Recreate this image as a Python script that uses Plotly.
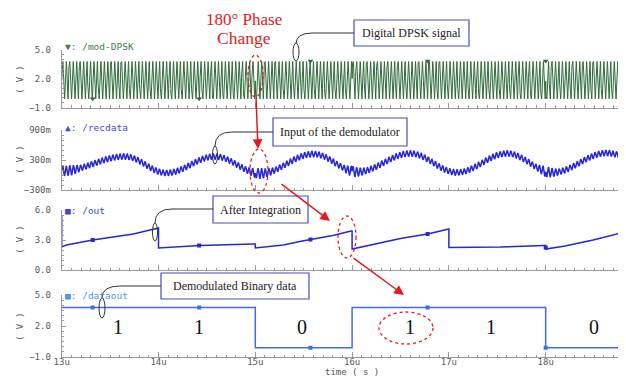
import numpy as np
import plotly.graph_objects as go

# page body has an 8px margin: figure is offset by 8px inside the window
OFF = 8
W, H = 626 - OFF, 379 - OFF

# ---------------- data ----------------
time_ticks = [13, 14, 15, 16, 17, 18]
time_tick_text = ["13u", "14u", "15u", "16u", "17u", "18u"]
t_start, t_end = 13.0, 18.778

# panel 1: DPSK modulated carrier
dpsk_cycles_per_us = 28.0
dpsk_high = 3.8
dpsk_low = -0.1
dpsk_phase_flips = [15.0, 16.0, 18.0]

# panel 2: received data - slow component (peaks / troughs) plus carrier ripple
rec_t = [13.0, 13.65, 14.08, 14.58, 15.05, 15.6, 16.05, 16.6, 17.08, 17.6, 18.07, 18.63, 18.778]
rec_v = [0.08, 0.37, 0.04, 0.37, 0.03, 0.42, 0.06, 0.43, 0.05, 0.43, 0.05, 0.44, 0.40]
ripple_cycles_per_us = 27.0
ripple_t = [13.0, 13.1, 13.2, 14.9, 15.05, 15.2, 15.9, 16.0, 16.15, 17.9, 18.0, 18.15, 18.778]
ripple_a = [0.10, 0.10, 0.06, 0.06, 0.11, 0.06, 0.06, 0.11, 0.06, 0.06, 0.11, 0.06, 0.06]

# panel 3: integrator output
out_t = [13.0, 13.0, 13.05, 13.32, 13.74, 13.98, 14.0, 14.0, 14.43, 14.97, 15.0, 15.0,
         15.29, 15.46, 15.57, 15.8, 15.99, 16.0, 16.0, 16.15, 16.5, 16.78, 16.99, 17.0,
         17.0, 17.53, 17.98, 18.0, 18.0, 18.2, 18.49, 18.778]
out_v = [5.5, 2.3, 2.5, 3.0, 3.6, 4.2, 4.2, 2.2, 2.45, 2.6, 2.6, 2.2,
         2.5, 2.85, 3.05, 3.45, 3.9, 3.9, 2.1, 2.4, 3.15, 3.6, 4.1, 4.1,
         2.25, 2.3, 2.45, 2.45, 2.1, 2.4, 3.0, 3.7]

# panel 4: demodulated data
data_t = [13.0, 15.0, 16.0, 18.0, 18.778]
data_v = [3.8, -0.1, 3.8, -0.1, -0.1]

bits = ["1", "1", "0", "1", "1", "0"]
bit_t = [13.58, 14.42, 15.48, 16.6, 17.43, 18.5]
bit_y = 1.9

marker_t = [13.32, 14.42, 15.57, 16.78, 18.0]
dpsk_marker_v = [-0.1, -0.1, 3.85, 3.85, 3.85]
out_marker_v = [3.0, 2.45, 3.05, 3.6, 2.25]
data_marker_v = [3.8, 3.8, -0.1, 3.8, -0.1]

# ---------------- waveform synthesis from the read parameters ----------------
t = np.linspace(t_start, t_end, 4800)
flips = np.zeros_like(t)
for tf in dpsk_phase_flips:
    flips += (t >= tf)
phase = 2 * np.pi * dpsk_cycles_per_us * (t - t_start) + np.pi * flips
sq = np.clip(1.35 * np.sin(phase), -1, 1)
dpsk = (dpsk_high + dpsk_low) / 2 + (dpsk_high - dpsk_low) / 2 * sq


def smooth_interp(tq, kt, kv):
    kt = np.asarray(kt); kv = np.asarray(kv)
    idx = np.clip(np.searchsorted(kt, tq, side="right") - 1, 0, len(kt) - 2)
    f = (tq - kt[idx]) / (kt[idx + 1] - kt[idx])
    f = (1 - np.cos(np.pi * np.clip(f, 0, 1))) / 2
    return kv[idx] + (kv[idx + 1] - kv[idx]) * f


slow = smooth_interp(t, rec_t, rec_v)
ramp = np.interp(t, ripple_t, ripple_a)
rphase = 2 * np.pi * ripple_cycles_per_us * (t - t_start) + np.pi * flips
recdata = slow + ramp * np.sin(rphase)

# ---------------- figure ----------------
X0_PX, X1_PX = 61.7, 621.0


def px(x):
    return (x - OFF) / W


def py(y):
    return 1 - (y - OFF) / H


def P(x, y):
    return f"{px(x):.5f},{py(y):.5f}"


fig = go.Figure()

GREEN = "#2f6b3b"
BLUE = "#2626dc"
BLUE2 = "#3d6cf0"
AX = "#9a9a9a"
TICKFONT = dict(family="DejaVu Sans Mono", size=9, color="#5a5a5a")

fig.add_trace(go.Scatter(x=t, y=dpsk, mode="lines", line=dict(color=GREEN, width=1.0),
                         xaxis="x", yaxis="y", hoverinfo="skip"))
fig.add_trace(go.Scatter(x=marker_t, y=dpsk_marker_v, mode="markers",
                         marker=dict(symbol="triangle-down", size=5, color=GREEN),
                         xaxis="x", yaxis="y"))
fig.add_trace(go.Scatter(x=t, y=recdata, mode="lines", line=dict(color=BLUE, width=1.5),
                         xaxis="x2", yaxis="y2", hoverinfo="skip"))
fig.add_trace(go.Scatter(x=out_t, y=out_v, mode="lines", line=dict(color=BLUE, width=1.5),
                         xaxis="x3", yaxis="y3"))
fig.add_trace(go.Scatter(x=marker_t, y=out_marker_v, mode="markers",
                         marker=dict(symbol="square", size=4, color=BLUE),
                         xaxis="x3", yaxis="y3"))
fig.add_trace(go.Scatter(x=data_t, y=data_v, mode="lines", line=dict(color=BLUE2, width=1.5, shape="hv"),
                         xaxis="x4", yaxis="y4"))
fig.add_trace(go.Scatter(x=marker_t, y=data_marker_v, mode="markers",
                         marker=dict(symbol="square", size=4, color=BLUE2),
                         xaxis="x4", yaxis="y4"))


def xaxis_cfg(anchor, labels):
    return dict(range=[t_start, t_end], domain=[px(X0_PX), px(X1_PX)], anchor=anchor,
                showline=True, linecolor=AX, linewidth=1, showgrid=False, zeroline=False,
                ticks="inside", tickcolor=AX, ticklen=5, tickvals=time_ticks,
                ticktext=time_tick_text, showticklabels=labels, tickfont=TICKFONT,
                ticklabelstandoff=-4,
                minor=dict(dtick=0.1, tick0=13, ticks="inside", ticklen=2.5, tickcolor=AX),
                automargin=False, fixedrange=True)


def yaxis_cfg(anchor, rng, top, bottom, vals, text, minor):
    return dict(range=rng, domain=[py(bottom), py(top)], anchor=anchor,
                showline=True, linecolor=AX, linewidth=1, showgrid=False, zeroline=False,
                ticks="inside", tickcolor=AX, ticklen=4, tickvals=vals, ticktext=text,
                tickfont=TICKFONT, ticklabelstandoff=8,
                minor=dict(dtick=minor, ticks="inside", ticklen=2, tickcolor=AX),
                automargin=False, fixedrange=True)


fig.update_layout(
    width=W, height=H, margin=dict(l=0, r=0, t=0, b=0), autosize=False,
    template="none", paper_bgcolor="white", plot_bgcolor="white", showlegend=False,
    xaxis=xaxis_cfg("y", False),
    xaxis2=xaxis_cfg("y2", False),
    xaxis3=xaxis_cfg("y3", False),
    xaxis4=xaxis_cfg("y4", True),
    yaxis=yaxis_cfg("x", [-1, 5], 50, 107.5, [-1, 2, 5], ["\u22121.0", "2.0", "5.0"], 0.5),
    yaxis2=yaxis_cfg("x2", [-0.3, 0.9], 130, 190, [-0.3, 0.3, 0.9], ["\u2212300m", "300m", "900m"], 0.1),
    yaxis3=yaxis_cfg("x3", [0, 6], 210, 270, [0, 3, 6], ["0.0", "3.0", "6.0"], 0.5),
    yaxis4=yaxis_cfg("x4", [-1, 5], 295, 357, [-1, 2, 5], ["\u22121.0", "2.0", "5.0"], 0.5),
)

annotations = []
shapes = []
SERIF = "Liberation Serif"
RED = "#e3191c"


def note(x, y, text, font, **kw):
    d = dict(x=px(x), y=py(y), xref="paper", yref="paper", text=text, showarrow=False,
             xanchor="center", yanchor="middle", font=font)
    d.update(kw)
    annotations.append(d)


# signal name labels
for txt, y, col in [("\u25bc: /mod-DPSK", 46, "#3f7d4e"), ("\u25b2: /recdata", 128, "#4646d6"),
                    ("\u25a0: /out", 210, "#4646d6"), ("\u25a0: /dataout", 295, "#4f95e6")]:
    note(63, y, txt, dict(family="DejaVu Sans Mono", size=9.5, color=col), xanchor="left")
# ( V ) labels
for y in [80, 160, 240, 327]:
    note(19, y, "( V )", dict(family="DejaVu Sans Mono", size=9.5, color="#666"), textangle=-90)
note(352, 372, "time ( s )", dict(family="DejaVu Sans Mono", size=9, color="#555"))

# bit values
for b, bt in zip(bits, bit_t):
    annotations.append(dict(x=bt, y=bit_y, xref="x4", yref="y4", text=b, showarrow=False,
                            xanchor="center", yanchor="middle",
                            font=dict(family=SERIF, size=20, color="#111")))

# phase change caption (two lines)
note(244, 8.5, "180\u00b0 Phase", dict(family=SERIF, size=17, color=RED), yanchor="top")
note(244, 38, "Change", dict(family=SERIF, size=17.5, color=RED))

# callout boxes
boxes = [("Digital DPSK signal", 354, 469, 20, 46),
         ("Input of the demodulator", 273, 407, 118, 146),
         ("After Integration", 213, 308, 196, 223),
         ("Demodulated Binary data", 161, 309, 273, 299)]
for txt, x0, x1, y0, y1 in boxes:
    shapes.append(dict(type="rect", xref="paper", yref="paper", x0=px(x0), x1=px(x1), y0=py(y1), y1=py(y0),
                       line=dict(color="#4b4bc4", width=1.2), fillcolor="white", layer="above"))
    note((x0 + x1) / 2, (y0 + y1) / 2, txt, dict(family=SERIF, size=12, color="#222"))

# connectors with small ellipses
conns = [((354, 33), (312, 33), (296, 33), (296, 44), (296, 52, 3, 9)),
         ((273, 132), (232, 132), (215, 132), (215, 146), (215, 155, 2.5, 9)),
         ((213, 209), (172, 209), (155, 209), (155, 223), (155, 232, 2.5, 9)),
         ((161, 286), (120, 286), (102, 286), (102, 298), (102, 308, 3, 10))]
for a, b, c, d, e in conns:
    shapes.append(dict(type="path", xref="paper", yref="paper",
                       path=f"M {P(*a)} L {P(*b)} Q {P(*c)} {P(*d)}",
                       line=dict(color="#333", width=1), layer="above"))
    cx, cy, rx, ry = e
    shapes.append(dict(type="circle", xref="paper", yref="paper", x0=px(cx - rx), x1=px(cx + rx),
                       y0=py(cy + ry), y1=py(cy - ry), line=dict(color="#333", width=1), layer="above"))

# red dotted ellipses
for cx, cy, rx, ry in [(255.5, 76, 7.5, 21), (259, 171, 9, 22), (347, 237, 9, 21), (406, 328, 27, 16)]:
    shapes.append(dict(type="circle", xref="paper", yref="paper", x0=px(cx - rx), x1=px(cx + rx),
                       y0=py(cy + ry), y1=py(cy - ry), line=dict(color=RED, width=1.3, dash="dot"),
                       layer="above"))

# red arrows (tip, tail) in pixels
for (tx, ty), (sx, sy) in [((258, 149), (256, 97)), ((330, 221), (280, 183)), ((404, 295), (352, 257))]:
    annotations.append(dict(x=px(tx), y=py(ty), xref="paper", yref="paper", text="", showarrow=True,
                            ax=sx - tx, ay=sy - ty, axref="pixel", ayref="pixel",
                            arrowhead=2, arrowsize=1.3, arrowwidth=1.5, arrowcolor=RED))

fig.update_layout(annotations=annotations, shapes=shapes)
fig.write_html("out.html")
